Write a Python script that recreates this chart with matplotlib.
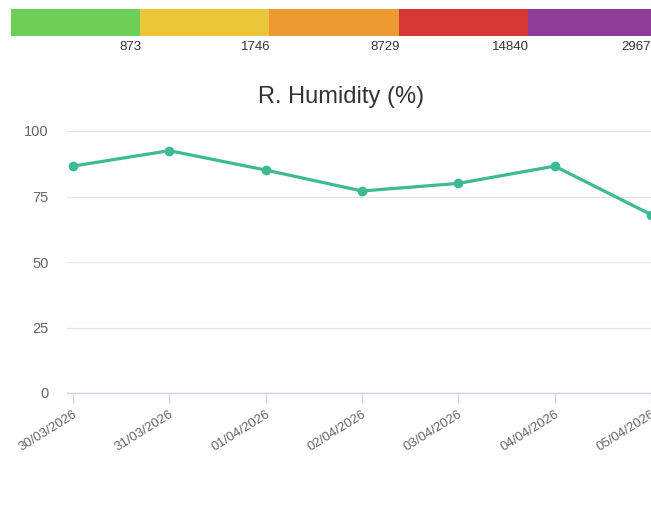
import matplotlib.pyplot as plt

plt.rcParams['font.family'] = ['Liberation Sans', 'DejaVu Sans']

# colour scale on top
scale_colors = ['#6dce5a', '#e9c739', '#ec9a31', '#d83737', '#8d3d95']
scale_labels = ['873', '1746', '8729', '14840', '29679']

# humidity series
dates = ['30/03/2026', '31/03/2026', '01/04/2026', '02/04/2026',
         '03/04/2026', '04/04/2026', '05/04/2026']
humidity = [86.6, 92.5, 85.1, 77.1, 80.0, 86.6, 68.1]

W, H = 651, 513
fig = plt.figure(figsize=(W / 100, H / 100), dpi=100)

# --- scale bar ---
bx = fig.add_axes([11 / W, (H - 36) / H, 646 / W, 27 / H])
for i, c in enumerate(scale_colors):
    bx.barh(0, 1, left=i, height=1, color=c, linewidth=0)
bx.set_xlim(0, len(scale_colors))
bx.set_ylim(-0.5, 0.5)
bx.axis('off')
for i, lab in enumerate(scale_labels):
    bx.text(i + 1 + 0.01, -0.68, lab, ha='right', va='top', fontsize=9.5,
            color='#333333')

# --- line chart ---
step = 578 / 6
left_px = 67
right_px = 657
ax = fig.add_axes([left_px / W, (H - 393) / H, (right_px - left_px) / W, 262 / H])
x = list(range(len(dates)))
ax.plot(x, humidity, color='#3dba94', linewidth=2.3, marker='o',
        markersize=6, zorder=3, clip_on=False)
ax.set_xlim(-6 / step, len(dates) - 1 + 6 / step)
ax.set_ylim(0, 100)
ax.set_yticks([0, 25, 50, 75, 100])
ax.grid(axis='y', color='#e6e6e6', linewidth=1)
ax.set_axisbelow(True)
for s in ['top', 'right', 'left']:
    ax.spines[s].set_visible(False)
ax.spines['bottom'].set_color('#ccd6eb')
ax.spines['bottom'].set_linewidth(1)
ax.tick_params(axis='y', length=0, pad=13, labelsize=10.5, labelcolor='#666666')
ax.tick_params(axis='x', length=7, color='#ccd6eb', width=1, pad=4,
               labelsize=9.5, labelcolor='#666666')
ax.set_xticks(x)
ax.set_xticklabels(dates, rotation=32, ha='right', va='top',
                   rotation_mode='anchor')

fig.text(341 / W, (H - 97) / H, 'R. Humidity (%)', ha='center', va='center',
         fontsize=17, color='#333333')

fig.savefig('out.png', dpi=100)
